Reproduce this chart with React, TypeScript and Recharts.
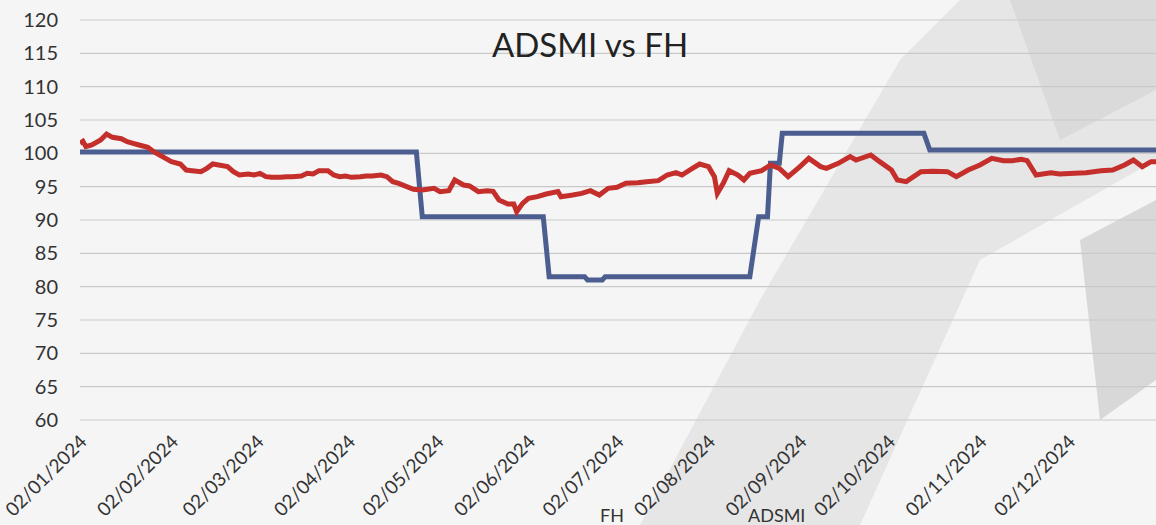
import React from "react";
import { CartesianGrid, Line, LineChart, XAxis, YAxis } from "recharts";

// x values are days counted from 02/01/2024
const monthTicks = [0, 31, 60, 91, 121, 152, 182, 213, 244, 274, 305, 335];
const monthLabels = [
  "02/01/2024", "02/02/2024", "02/03/2024", "02/04/2024", "02/05/2024", "02/06/2024",
  "02/07/2024", "02/08/2024", "02/09/2024", "02/10/2024", "02/11/2024", "02/12/2024",
];
const yTicks = [60, 65, 70, 75, 80, 85, 90, 95, 100, 105, 110, 115, 120];

const fhDays = [0, 114, 116, 157, 159, 171, 172, 177, 178, 227, 230, 233, 234, 237, 238, 286, 288, 365];
const fhValues = [100.2, 100.2, 90.5, 90.5, 81.5, 81.5, 81.0, 81.0, 81.5, 81.5, 90.5, 90.5, 98.5, 98.5, 103.0, 103.0, 100.5, 100.5];

const adsmiDays = [
  0, 1, 2, 4, 7, 9, 11, 14, 16, 18, 20, 23, 25, 27, 29, 31, 34, 36, 38, 41,
  43, 45, 47, 50, 52, 54, 57, 59, 61, 63, 65, 68, 70, 72, 75, 77, 79, 81, 84, 86,
  88, 90, 92, 95, 97, 99, 102, 104, 106, 108, 113, 116, 120, 122, 125, 127, 130, 132, 135, 138,
  140, 142, 145, 147, 148, 150, 152, 155, 158, 162, 163, 167, 170, 173, 176, 179, 182, 185, 189, 192,
  196, 199, 202, 204, 207, 210, 213, 215, 216, 218, 220, 223, 225, 227, 231, 234, 237, 240, 244, 247,
  251, 253, 257, 261, 263, 268, 271, 275, 277, 280, 285, 289, 294, 297, 301, 305, 309, 313, 316, 319,
  321, 324, 329, 332, 337, 341, 346, 350, 354, 357, 360, 363, 365,
];
const adsmiValues = [
  101.5, 101.8, 101.0, 101.25, 102.0, 102.9, 102.4, 102.2, 101.75, 101.5, 101.25, 100.9, 100.25, 99.75, 99.25, 98.75, 98.4, 97.5, 97.4, 97.25,
  97.75, 98.4, 98.25, 98.0, 97.25, 96.75, 96.9, 96.75, 97.0, 96.5, 96.4, 96.4, 96.5, 96.5, 96.6, 97.0, 96.9, 97.4, 97.4, 96.75,
  96.5, 96.6, 96.4, 96.5, 96.6, 96.6, 96.75, 96.5, 95.75, 95.5, 94.6, 94.5, 94.75, 94.25, 94.4, 96.0, 95.25, 95.1, 94.25, 94.4,
  94.3, 93.0, 92.4, 92.4, 91.25, 92.5, 93.25, 93.5, 93.9, 94.25, 93.5, 93.75, 94.0, 94.4, 93.75, 94.75, 94.9, 95.5, 95.6, 95.75,
  95.9, 96.75, 97.1, 96.75, 97.6, 98.4, 98.0, 96.5, 94.0, 95.5, 97.4, 96.75, 96.0, 97.0, 97.4, 98.25, 97.75, 96.5, 98.0, 99.25,
  98.0, 97.75, 98.5, 99.5, 99.0, 99.75, 98.75, 97.5, 96.0, 95.75, 97.25, 97.3, 97.25, 96.5, 97.5, 98.25, 99.25, 98.9, 98.9, 99.1,
  98.9, 96.75, 97.1, 96.9, 97.0, 97.1, 97.4, 97.5, 98.25, 99.0, 98.0, 98.75, 98.75,
];

const fhData = fhDays.map((day, i) => ({ day, fh: fhValues[i] }));
const adsmiData = adsmiDays.map((day, i) => ({ day, adsmi: adsmiValues[i] }));

const font = "Lato, 'Open Sans', sans-serif";

function DateTick(props: any) {
  const { x, y, payload } = props;
  const label = monthLabels[monthTicks.indexOf(payload.value)];
  return (
    <g transform={`translate(${x + 8},${y + 15})`}>
      <text textAnchor="end" transform="rotate(-45)" fontSize={19} fill="#333" fontFamily={font}>
        {label}
      </text>
    </g>
  );
}

const legendStyle: React.CSSProperties = {
  position: "absolute",
  top: 506,
  fontFamily: font,
  fontSize: 18,
  lineHeight: "18px",
  color: "#333",
};

export default function App() {
  return (
    <div
      style={{
        position: "fixed",
        left: 0,
        top: 0,
        width: 1156,
        height: 525,
        overflow: "hidden",
        background: "#f5f5f5",
      }}
    >
      <svg width={1156} height={525} style={{ position: "absolute", left: 0, top: 0 }}>
        <polygon points="640,525 760,300 900,60 960,0 1156,0 1156,160 980,260 860,525" fill="#e6e6e6" />
        <polygon points="1010,0 1156,0 1156,90 1060,140" fill="#dadada" />
        <polygon points="1080,240 1156,200 1156,380 1100,420" fill="#d8d8d8" />
      </svg>
      <div style={{ position: "absolute", left: 0, top: 0 }}>
        <LineChart width={1157} height={560} margin={{ top: 20, right: 0, left: 0, bottom: 40 }}>
          <CartesianGrid vertical={false} stroke="#c9c9c9" strokeWidth={1.2} />
          <XAxis
            dataKey="day"
            type="number"
            domain={[0, 365]}
            ticks={monthTicks}
            interval={0}
            height={100}
            tickLine={false}
            axisLine={false}
            tick={<DateTick />}
            allowDataOverflow
          />
          <YAxis
            type="number"
            domain={[60, 120]}
            ticks={yTicks}
            width={80}
            tickLine={false}
            axisLine={false}
            tickMargin={16}
            tick={{ fontSize: 20, fill: "#333", fontFamily: font }}
          />
          <Line
            data={fhData}
            dataKey="fh"
            type="linear"
            stroke="#4b5e8f"
            strokeWidth={5}
            dot={false}
            isAnimationActive={false}
          />
          <Line
            data={adsmiData}
            dataKey="adsmi"
            type="linear"
            stroke="#c42e2b"
            strokeWidth={5}
            dot={false}
            isAnimationActive={false}
          />
        </LineChart>
      </div>
      <div
        style={{
          position: "absolute",
          left: 390,
          width: 400,
          top: 24,
          textAlign: "center",
          fontFamily: font,
          fontSize: 33,
          color: "#222",
        }}
      >
        ADSMI vs FH
      </div>
      <div style={{ ...legendStyle, left: 600 }}>FH</div>
      <div style={{ ...legendStyle, left: 748 }}>ADSMI</div>
    </div>
  );
}
